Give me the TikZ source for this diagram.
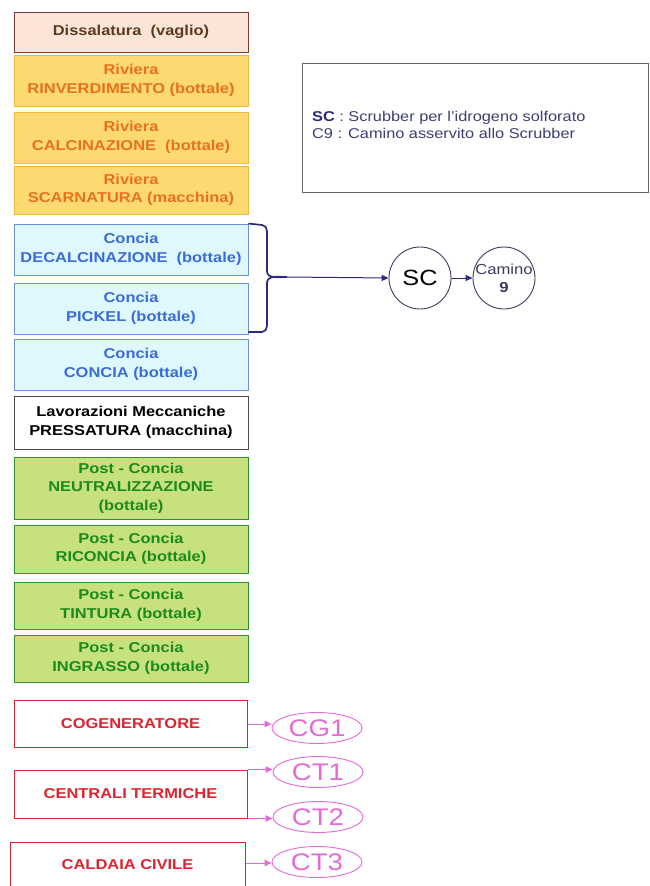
\documentclass[tikz,border=0pt]{standalone}
\usepackage{fontspec}
\setmainfont[FakeStretch=1.15]{Liberation Sans}
\usetikzlibrary{arrows.meta,shapes.geometric}
\definecolor{disfill}{HTML}{FBE5D9}
\definecolor{disdraw}{HTML}{7A3B3B}
\definecolor{distext}{HTML}{5B3A1E}
\definecolor{rivfill}{HTML}{FDD972}
\definecolor{rivdraw}{HTML}{F0B840}
\definecolor{rivtext}{HTML}{E8721C}
\definecolor{confill}{HTML}{DFF8FD}
\definecolor{condraw}{HTML}{6C8FD8}
\definecolor{context}{HTML}{3B6CD6}
\definecolor{postfill}{HTML}{C6E17E}
\definecolor{postdraw}{HTML}{2F8F2F}
\definecolor{posttext}{HTML}{1C8A1C}
\definecolor{redc}{HTML}{DD2230}
\definecolor{pinkc}{HTML}{E46AD6}
\definecolor{navy}{HTML}{2B2B80}
\definecolor{circ}{HTML}{3A3A5E}
\definecolor{legtext}{HTML}{3A4070}
\tikzset{
  basebox/.style={rectangle, draw, line width=0.9pt, minimum width=234pt, inner sep=0pt,
    align=center, font=\fontsize{14.3}{18.5}\selectfont\bfseries},
  disbox/.style={basebox, fill=disfill, draw=disdraw, text=distext},
  rivbox/.style={basebox, fill=rivfill, draw=rivdraw, text=rivtext},
  conbox/.style={basebox, fill=confill, draw=condraw, text=context},
  lavbox/.style={basebox, fill=white, draw=black!70, text=black},
  postbox/.style={basebox, fill=postfill, draw=postdraw, text=posttext},
  redbox/.style={basebox, fill=white, draw=redc, text=redc, line width=1pt, minimum width=233pt},
  pinkell/.style={ellipse, draw=pinkc, text=pinkc, line width=0.9pt, minimum width=90pt, minimum height=31pt, inner sep=0pt, font=\fontsize{24}{24}\selectfont},
  pinkarr/.style={draw=pinkc, line width=1pt, -{Triangle[length=7pt,width=6.5pt]}},
  navyarr/.style={draw=navy, line width=1pt, -{Triangle[length=7pt,width=6pt]}},
  circnode/.style={circle, draw=circ, line width=0.9pt, minimum size=62pt, inner sep=0pt}
}
\begin{document}
\begin{tikzpicture}[x=1pt,y=-1pt]
\useasboundingbox (0,0) rectangle (649,886);
% left column boxes
\node[disbox, minimum height=40pt] (dis) at (131,32) {Dissalatura\ \ (vaglio)};
\node[rivbox, minimum height=51pt] (rin) at (131,80.5) {Riviera\\RINVERDIMENTO (bottale)};
\node[rivbox, minimum height=51pt] (cal) at (131,137.5) {Riviera\\CALCINAZIONE\ \ (bottale)};
\node[rivbox, minimum height=48pt] (sca) at (131,190) {Riviera\\SCARNATURA (macchina)};
\node[conbox, minimum height=51pt] (dec) at (131,249.5) {Concia\\DECALCINAZIONE\ \ (bottale)};
\node[conbox, minimum height=51pt] (pic) at (131,308.5) {Concia\\PICKEL (bottale)};
\node[conbox, minimum height=51pt] (con) at (131,364.5) {Concia\\CONCIA (bottale)};
\node[lavbox, minimum height=53pt] (lav) at (131,422.5) {Lavorazioni Meccaniche\\PRESSATURA (macchina)};
\node[postbox, minimum height=62pt] (neu) at (131,488) {Post - Concia\\NEUTRALIZZAZIONE\\(bottale)};
\node[postbox, minimum height=48pt] (ric) at (131,549) {Post - Concia\\RICONCIA (bottale)};
\node[postbox, minimum height=47pt] (tin) at (131,605.5) {Post - Concia\\TINTURA (bottale)};
\node[postbox, minimum height=47pt] (ing) at (131,658.5) {Post - Concia\\INGRASSO (bottale)};
% red boxes
\node[redbox, minimum height=47pt] (cog) at (130.5,723.5) {COGENERATORE};
\node[redbox, minimum height=48pt] (cen) at (130.5,794) {CENTRALI TERMICHE};
\node[redbox, minimum height=46pt, minimum width=235pt] (cld) at (127.5,865) {CALDAIA CIVILE};
% ellipses
\node[pinkell] (cg1) at (317,728) {CG1};
\node[pinkell] (ct1) at (318,772) {CT1};
\node[pinkell] (ct2) at (318,817) {CT2};
\node[pinkell] (ct3) at (317,862) {CT3};
\draw[pinkarr] (cog.east |- 0,724) -- (cg1.west |- 0,724);
\draw[pinkarr] (cen.north east) -- (ct1.west |- cen.north east);
\draw[pinkarr] (cen.south east) -- (ct2.west |- cen.south east);
\draw[pinkarr] (cld.east |- 0,863) -- (ct3.west |- 0,863);
% brace
\coordinate (btip) at (287,277);
\draw[navy, line width=1.7pt] (dec.north east) -- (262,225) to[out=0,in=90] (267,231) -- (267,271) to[out=-90,in=180] (btip) to[out=180,in=90] (267,283) -- (267,326) to[out=-90,in=0] (262,332) -- (pic.south east |- 0,332);
% scrubber and stack
\node[circnode, font=\fontsize{22}{22}\selectfont] (sc) at (420,278) {SC};
\node[circnode, align=center, font=\fontsize{14.5}{16}\selectfont, text=circ] (c9) at (504,278) {\raisebox{2pt}{\hspace*{-6pt}Camino\hspace*{-6pt}}\\\textbf{9}};
\draw[navyarr] (btip) -- (sc.west);
\draw[navyarr] (sc.east) -- (c9.west);
% legend
\node[draw=black!60, line width=1pt, minimum width=346pt, minimum height=129pt, inner sep=0pt] (leg) at (475,127.5) {};
\node[anchor=north west, align=left, text=legtext, inner sep=0pt, font=\fontsize{14.2}{17}\selectfont] (legt) at (312,111) {\textbf{\color{navy}SC} : Scrubber per l'idrogeno solforato\\C9 : Camino asservito allo Scrubber};
\end{tikzpicture}
\end{document}
